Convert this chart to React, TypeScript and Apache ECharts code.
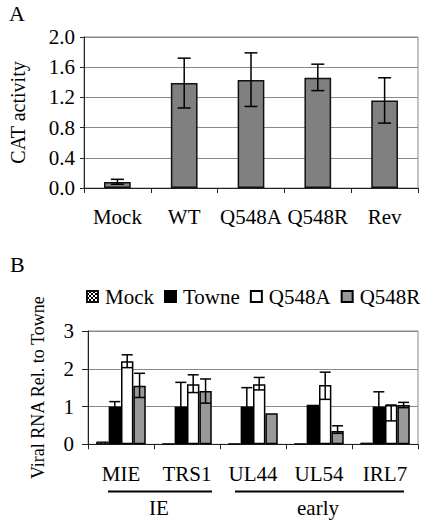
import React, { useEffect, useRef } from "react";
import * as echarts from "echarts";

// Panel A
const catsA = ["Mock", "WT", "Q548A", "Q548R", "Rev"];
const valuesA = [0.08, 1.39, 1.43, 1.46, 1.16];
const errLowA = [0.05, 1.06, 1.08, 1.29, 0.86];
const errHighA = [0.115, 1.72, 1.79, 1.64, 1.46];

// Panel B
const catsB = ["MIE", "TRS1", "UL44", "UL54", "IRL7"];
const seriesNamesB = ["Mock", "Towne", "Q548A", "Q548R"];
const mockB = [0.07, 0.01, 0.01, 0.01, 0.04];
const towneB = [1.0, 1.0, 1.0, 1.05, 1.0];
const q548aB = [2.2, 1.59, 1.59, 1.57, 1.04];
const q548rB = [1.55, 1.41, 0.82, 0.35, 1.04];
// error bars: [category index, series index, low, high]
const errB = [
  [0, 1, 0.87, 1.13],
  [1, 1, 0.36, 1.64],
  [2, 1, 0.5, 1.5],
  [4, 1, 0.61, 1.39],
  [0, 2, 2.03, 2.37],
  [1, 2, 1.37, 1.84],
  [2, 2, 1.44, 1.77],
  [3, 2, 1.19, 1.91],
  [4, 2, 0.62, 1.04],
  [0, 3, 1.24, 1.88],
  [1, 3, 1.09, 1.73],
  [3, 3, 0.29, 0.49],
  [4, 3, 0.97, 1.11],
];
const groupLabels = ["IE", "early"];

const FONT = "'Liberation Serif', 'Times New Roman', serif";

export default function App() {
  const ref = useRef<HTMLDivElement>(null);
  useEffect(() => {
    if (!ref.current) return;
    const chart = echarts.init(ref.current, undefined, { renderer: "svg" });

    const errSeriesA = {
      type: "custom",
      xAxisIndex: 0,
      yAxisIndex: 0,
      z: 10,
      data: catsA.map((_, i) => [i, errLowA[i], errHighA[i]]),
      renderItem: (params: any, api: any) => {
        const idx = api.value(0);
        const lo = api.coord([idx, api.value(1)]);
        const hi = api.coord([idx, api.value(2)]);
        const x = lo[0];
        const cw = 6.5;
        const st = { stroke: "#000", lineWidth: 1.5 };
        return {
          type: "group",
          children: [
            { type: "line", shape: { x1: x, y1: lo[1], x2: x, y2: hi[1] }, style: st },
            { type: "line", shape: { x1: x - cw, y1: lo[1], x2: x + cw, y2: lo[1] }, style: st },
            { type: "line", shape: { x1: x - cw, y1: hi[1], x2: x + cw, y2: hi[1] }, style: st },
          ],
        };
      },
    };

    const errSeriesB = {
      type: "custom",
      xAxisIndex: 1,
      yAxisIndex: 1,
      z: 10,
      data: errB,
      renderItem: (params: any, api: any) => {
        const idx = api.value(0);
        const si = api.value(1);
        const c = api.coord([idx, 0]);
        const band = api.size([1, 0])[0];
        const bw = (band * 0.75) / 4;
        const x = c[0] - band * 0.375 + (si + 0.5) * bw;
        const lo = api.coord([idx, api.value(2)])[1];
        const hi = api.coord([idx, api.value(3)])[1];
        const cw = 5.5;
        const st = { stroke: "#000", lineWidth: 1.5 };
        return {
          type: "group",
          children: [
            { type: "line", shape: { x1: x, y1: lo, x2: x, y2: hi }, style: st },
            { type: "line", shape: { x1: x - cw, y1: lo, x2: x + cw, y2: lo }, style: st },
            { type: "line", shape: { x1: x - cw, y1: hi, x2: x + cw, y2: hi }, style: st },
          ],
        };
      },
    };

    const axisText = { color: "#000", fontFamily: FONT, fontSize: 21 };

    const option: any = {
      animation: false,
      backgroundColor: "#fff",
      textStyle: { fontFamily: FONT, color: "#000" },
      grid: [
        { left: 79, right: 7, top: 37, height: 151, show: true, borderColor: "#888", borderWidth: 1 },
        { left: 88, right: 7, top: 331, height: 113.3, show: true, borderColor: "#888", borderWidth: 1 },
      ],
      legend: {
        data: seriesNamesB,
        left: 86,
        top: 286,
        width: 339,
        padding: 0,
        itemWidth: 11,
        itemHeight: 11,
        itemGap: 10,
        icon: "rect",
        textStyle: { ...axisText, fontSize: 21, padding: [0, 0, 0, 2] },
        selectedMode: false,
      },
      xAxis: [
        {
          type: "category",
          gridIndex: 0,
          data: catsA,
          axisLine: { lineStyle: { color: "#222", width: 1 } },
          axisTick: { show: true, length: 5, lineStyle: { color: "#222" } },
          axisLabel: { ...axisText, margin: 18, interval: 0, hideOverlap: false },
        },
        {
          type: "category",
          gridIndex: 1,
          data: catsB,
          axisLine: { lineStyle: { color: "#222", width: 1 } },
          axisTick: { show: true, length: 5, lineStyle: { color: "#222" } },
          axisLabel: { ...axisText, margin: 19, interval: 0, hideOverlap: false },
        },
      ],
      yAxis: [
        {
          type: "value",
          gridIndex: 0,
          min: 0,
          max: 2,
          interval: 0.4,
          name: "CAT activity",
          nameLocation: "middle",
          nameGap: 56,
          nameTextStyle: { ...axisText, fontSize: 20 },
          axisLine: { show: true, lineStyle: { color: "#222" } },
          axisTick: { show: true, length: 4, lineStyle: { color: "#222" } },
          axisLabel: { ...axisText, margin: 9, formatter: (v: number) => v.toFixed(1) },
          splitLine: { show: true, lineStyle: { color: "#888", width: 1 } },
        },
        {
          type: "value",
          gridIndex: 1,
          min: 0,
          max: 3,
          interval: 1,
          name: "Viral RNA Rel. to Towne",
          nameLocation: "middle",
          nameGap: 41,
          nameTextStyle: { ...axisText, fontSize: 18 },
          axisLine: { show: true, lineStyle: { color: "#222" } },
          axisTick: { show: true, length: 6, lineStyle: { color: "#222" } },
          axisLabel: { ...axisText, margin: 14 },
          splitLine: { show: true, lineStyle: { color: "#888", width: 1 } },
        },
      ],
      series: [
        {
          type: "bar",
          name: "CAT",
          xAxisIndex: 0,
          yAxisIndex: 0,
          data: valuesA,
          barWidth: "40%",
          itemStyle: { color: "#808080", borderColor: "#111", borderWidth: 1.5 },
        },
        errSeriesA,
        {
          type: "bar",
          name: "Mock",
          xAxisIndex: 1,
          yAxisIndex: 1,
          data: mockB,
          barGap: 0,
          barCategoryGap: "25%",
          itemStyle: {
            color: "#fff",
            borderColor: "#111",
            borderWidth: 1,
            decal: {
              symbol: "rect",
              symbolSize: 1,
              color: "#000",
              dashArrayX: [[2, 2], [0, 2, 2, 0]],
              dashArrayY: [2, 0],
              rotation: 0,
            },
          },
        },
        {
          type: "bar",
          name: "Towne",
          xAxisIndex: 1,
          yAxisIndex: 1,
          data: towneB,
          barGap: 0,
          barCategoryGap: "25%",
          itemStyle: { color: "#000", borderColor: "#000", borderWidth: 1.5 },
        },
        {
          type: "bar",
          name: "Q548A",
          xAxisIndex: 1,
          yAxisIndex: 1,
          data: q548aB,
          barGap: 0,
          barCategoryGap: "25%",
          itemStyle: { color: "#fff", borderColor: "#000", borderWidth: 1.5 },
        },
        {
          type: "bar",
          name: "Q548R",
          xAxisIndex: 1,
          yAxisIndex: 1,
          data: q548rB,
          barGap: 0,
          barCategoryGap: "25%",
          itemStyle: { color: "#999", borderColor: "#000", borderWidth: 1.5 },
        },
        errSeriesB,
      ],
      graphic: [
        { type: "text", left: 9, top: 2, style: { text: "A", font: `22px ${FONT}`, fill: "#000" } },
        { type: "text", left: 10, top: 253, style: { text: "B", font: `22px ${FONT}`, fill: "#000" } },
        { type: "line", shape: { x1: 108, y1: 491.5, x2: 212, y2: 491.5 }, style: { stroke: "#000", lineWidth: 2 } },
        { type: "line", shape: { x1: 235, y1: 491.5, x2: 404, y2: 491.5 }, style: { stroke: "#000", lineWidth: 2 } },
        {
          type: "text",
          x: 159,
          y: 508,
          style: { text: groupLabels[0], font: `21px ${FONT}`, fill: "#000", align: "center", verticalAlign: "middle" },
        },
        {
          type: "text",
          x: 318,
          y: 508,
          style: { text: groupLabels[1], font: `21px ${FONT}`, fill: "#000", align: "center", verticalAlign: "middle" },
        },
      ],
    };
    chart.setOption(option);
    return () => chart.dispose();
  }, []);
  return (
    <div
      ref={ref}
      style={{ position: "fixed", left: 0, top: 0, width: 425, height: 523, background: "#fff" }}
    />
  );
}
